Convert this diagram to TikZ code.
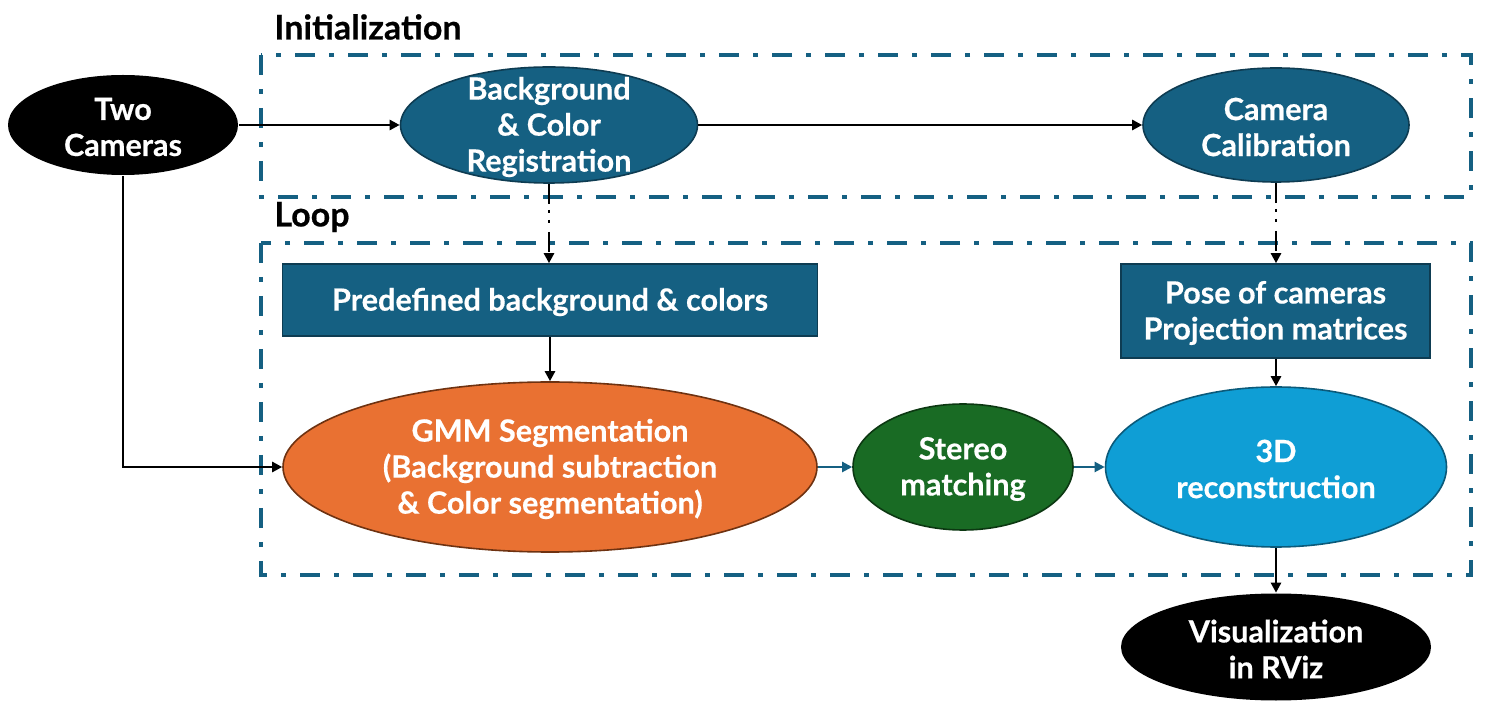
\documentclass[tikz,border=0pt]{standalone}
\usepackage{fontspec}
\setmainfont{Lato}[BoldFeatures={FakeBold=0.5}]
\usetikzlibrary{shapes.geometric,arrows.meta}
\definecolor{teal}{HTML}{156082}
\definecolor{tealdk}{HTML}{0E3C52}
\definecolor{orng}{HTML}{E97132}
\definecolor{orngdk}{HTML}{6E3211}
\definecolor{grn}{HTML}{196B24}
\definecolor{grndk}{HTML}{0C3812}
\definecolor{lblue}{HTML}{0F9ED5}
\definecolor{lbluedk}{HTML}{0B5A7A}
\tikzset{
  ebox/.style={ellipse, inner sep=0pt, line width=0.8pt},
  rbox/.style={rectangle, inner sep=0pt, fill=teal, draw=tealdk, line width=0.8pt},
  txt/.style={text=white, font=\bfseries\fontsize{15.3}{18}\selectfont, align=center, inner sep=0pt, yshift=-1pt},
  frame/.style={draw=teal, line width=2.3pt, dash pattern=on 10pt off 7pt on 2.5pt off 7pt},
  flbl/.style={font=\bfseries\fontsize{17}{20}\selectfont, anchor=west, inner sep=0pt},
  conn/.style={line width=1.3pt, -{Triangle[length=5pt,width=5pt]}},
  bconn/.style={draw=teal, line width=1.1pt, -{Triangle[length=5pt,width=5pt]}},
  dconn/.style={line width=1.4pt, dash pattern=on 10pt off 3pt on 1.5pt off 3.5pt on 1.5pt off 4.5pt, -{Triangle[length=5pt,width=5pt]}},
}
\begin{document}
\begin{tikzpicture}[x=0.5pt,y=-0.5pt]
\useasboundingbox (0,0) rectangle (1488,715);
% frames
\draw[frame] (261,55) rectangle (1471,197);
\draw[frame] (261,243) rectangle (1471,575);
\node[flbl] (linit) at (274,27) {Initialization};
\node[flbl] (lloop) at (274,217) {Loop};
% nodes
\node[ebox, fill=black, minimum width=115pt, minimum height=50pt] (tc) at (123,125) {};
\node[txt] at (tc) {Two\\Cameras};
\node[ebox, fill=teal, draw=tealdk, minimum width=148.5pt, minimum height=58pt] (bg) at (549,125) {};
\node[txt] at (bg) {Background\\\& Color\\Registration};
\node[ebox, fill=teal, draw=tealdk, minimum width=133pt, minimum height=57pt] (cc) at (1276,125) {};
\node[txt] at (cc) {Camera\\Calibration};
\node[rbox, minimum width=267.5pt, minimum height=36pt] (pd) at (550,300) {};
\node[txt] at (pd) {Predefined background \& colors};
\node[rbox, minimum width=154.5pt, minimum height=47pt] (pose) at (1275.5,311) {};
\node[txt] at (pose) {Pose of cameras\\Projection matrices};
\node[ebox, fill=orng, draw=orngdk, minimum width=267pt, minimum height=85pt] (gmm) at (550,467) {};
\node[txt] at (gmm) {GMM Segmentation\\(Background subtraction\\\& Color segmentation)};
\node[ebox, fill=grn, draw=grndk, minimum width=110pt, minimum height=63pt] (st) at (963,467) {};
\node[txt] at (st) {Stereo\\matching};
\node[ebox, fill=lblue, draw=lbluedk, minimum width=170.5pt, minimum height=80pt] (rec) at (1276,467) {};
\node[txt] at (rec) {3D\\reconstruction};
\node[ebox, fill=black, minimum width=155pt, minimum height=53.5pt] (vis) at (1276,647) {};
\node[txt] at (vis) {Visualization\\in RViz};
% connectors
\draw[conn] (tc.east) -- (bg.west);
\draw[conn] (bg.east) -- (cc.west);
\draw[conn] (tc.south) |- (gmm.west);
\draw[dconn] (bg.south) -- (pd.north -| bg.south);
\draw[dconn] (cc.south) -- (pose.north -| cc.south);
\draw[conn] (pd.south -| gmm.north) -- (gmm.north);
\draw[conn] (pose.south -| rec.north) -- (rec.north);
\draw[bconn] (gmm.east) -- (st.west);
\draw[bconn] (st.east) -- (rec.west);
\draw[conn] (rec.south) -- (vis.north);
\end{tikzpicture}
\end{document}
